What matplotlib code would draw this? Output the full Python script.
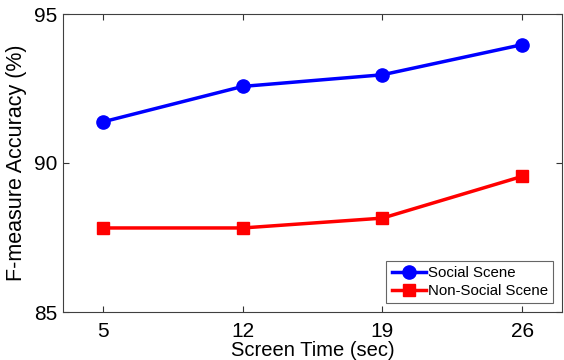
import numpy as np
import matplotlib
matplotlib.use('Agg')
import matplotlib.pyplot as plt

screen_time = [5, 12, 19, 26]
social = [91.38, 92.57, 92.96, 93.97]
non_social = [87.82, 87.82, 88.15, 89.55]

plt.rcParams['font.family'] = ['Liberation Sans', 'DejaVu Sans']

fig = plt.figure(figsize=(5.64, 3.6), dpi=100)
ax = fig.add_axes([63/564, 48/360, 499/564, 298/360])

ax.plot(screen_time, social, '-o', color='#0000ff', lw=2.5, ms=9.5, label='Social Scene')
ax.plot(screen_time, non_social, '-s', color='#ff0000', lw=2.5, ms=8.5, label='Non-Social Scene')

ax.set_xlim(3, 28)
ax.set_ylim(85, 95)
ax.set_xticks(screen_time)
ax.set_yticks([85, 90, 95])
ax.tick_params(direction='in', labelsize=15, colors='#333333', labelcolor='black',
               length=4, top=True, right=True)
ax.tick_params(axis='x', pad=7)
ax.tick_params(axis='y', pad=4)
for s in ax.spines.values():
    s.set_color('#404040')
ax.set_xlabel('Screen Time (sec)', fontsize=14.5, labelpad=0)
ax.set_ylabel('F-measure Accuracy (%)', fontsize=15.5, labelpad=5)

leg = ax.legend(loc='lower right', fontsize=10.8, frameon=True, fancybox=False,
                edgecolor='#404040', handlelength=2.3, borderaxespad=0.6, labelspacing=0.25,
                handletextpad=0.1, borderpad=0.35)
leg.get_frame().set_linewidth(0.8)

fig.savefig('out.png', dpi=100)
